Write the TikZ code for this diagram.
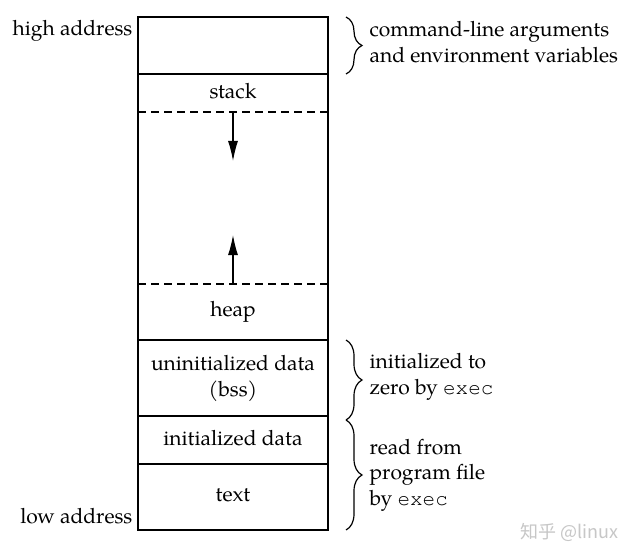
\documentclass[tikz,border=0pt]{standalone}
\usepackage{fontspec}
\setmainfont{TeX Gyre Pagella}
\setmonofont{TeX Gyre Cursor}
\newfontfamily\cjk{Noto Sans CJK SC}
\usetikzlibrary{decorations.pathreplacing,arrows.meta}
\begin{document}
\begin{tikzpicture}[x=1pt,y=-1pt,
  line width=1.2pt,
  font=\fontsize{21}{26}\selectfont,
  seg/.style={minimum width=190pt,inner sep=0pt,outer sep=0pt},
  lbl/.style={anchor=base,inner sep=0pt},
  side/.style={anchor=base west,inner sep=0pt},
  addr/.style={anchor=base east,inner sep=0pt},
  arr/.style={-{Latex[length=20pt,width=10pt]},line width=1.2pt},
  brace/.style={decorate,decoration={brace,amplitude=16pt,aspect=0.5},line width=1.2pt},
  sep/.style={line width=1.2pt},
  dsep/.style={line width=1.2pt,dash pattern=on 8pt off 5pt}
]
\useasboundingbox (0,0) rectangle (640,559);
\fill[white] (0,0) rectangle (640,559);
% segments
\node[seg,minimum height=57pt] (args) at (233,45.5) {};
\node[seg,minimum height=38pt] (stack) at (233,93) {};
\node[seg,minimum height=172pt] (gap) at (233,198) {};
\node[seg,minimum height=56pt] (heap) at (233,312) {};
\node[seg,minimum height=76pt] (bss) at (233,378) {};
\node[seg,minimum height=48pt] (idata) at (233,440) {};
\node[seg,minimum height=66pt] (text) at (233,497) {};
% frame and separators
\draw[sep] (args.north west) rectangle (text.south east);
\draw[sep] (stack.north west) -- (stack.north east);
\draw[dsep] (gap.north west) -- (gap.north east);
\draw[dsep] (gap.south west) -- (gap.south east);
\draw[sep] (bss.north west) -- (bss.north east);
\draw[sep] (idata.north west) -- (idata.north east);
\draw[sep] (text.north west) -- (text.north east);
% labels inside
\node[lbl] (tstack) at (233,99) {stack};
\node[lbl] (theap) at (233,316) {heap};
\node[lbl] (tbss1) at (233,370) {uninitialized data};
\node[lbl] (tbss2) at (233,396) {(bss)};
\node[lbl] (tidata) at (233,445) {initialized data};
\node[lbl] (ttext) at (233,501) {text};
% arrows
\coordinate (dtip) at (233,161);
\coordinate (utip) at (233,235);
\draw[arr] (gap.north) -- (dtip);
\draw[arr] (gap.south) -- (utip);
% addresses
\node[addr] (hi) at (133,36) {high address};
\node[addr] (lo) at (133,523) {low address};
% braces
\draw[brace] ([xshift=18pt]args.north east) -- ([xshift=18pt]args.south east);
\draw[brace] ([xshift=18pt]bss.north east) -- ([shift={(18pt,-4pt)}]bss.south east);
\draw[brace] ([shift={(18pt,-4pt)}]idata.north east) -- ([xshift=18pt]text.south east);
% side texts
\node[side] (c1) at (369,37) {command-line arguments};
\node[side] (c2) at (369,63) {and environment variables};
\node[side] (z1) at (369,368) {initialized to};
\node[side] (z2) at (369,394) {zero by \texttt{exec}};
\node[side] (r1) at (369,454) {read from};
\node[side] (r2) at (369,479) {program file};
\node[side] (r3) at (369,505) {by \texttt{exec}};
% watermark
\node[anchor=base west,inner sep=0pt,text=black!22,font=\cjk\fontsize{18}{20}\selectfont] (wm) at (520,538) {知乎 @linux};
\end{tikzpicture}
\end{document}
